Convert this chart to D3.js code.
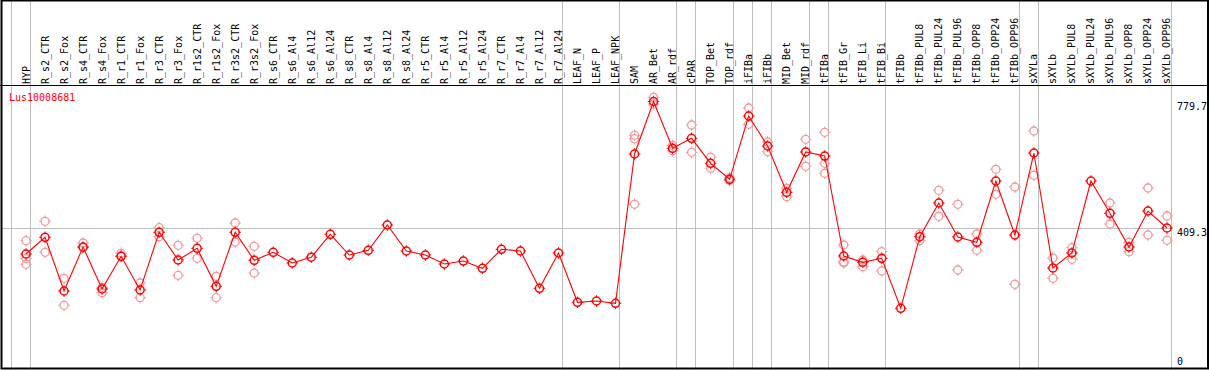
<!DOCTYPE html>
<html>
<head>
<meta charset="utf-8">
<script src="https://cdnjs.cloudflare.com/ajax/libs/d3/7.8.5/d3.min.js"></script>
<style>
    body { margin: 0; background: #fff; }
    svg text { font-family: "DejaVu Sans Mono", monospace; font-size: 10px; }
</style>
</head>
<body>
<div class="profile"></div>
<script>
// Data
const categories = [
    'HYP', 'R_s2_CTR', 'R_s2_Fox', 'R_s4_CTR', 'R_s4_Fox', 'R_r1_CTR', 'R_r1_Fox', 'R_r3_CTR', 'R_r3_Fox',
    'R_r1s2_CTR', 'R_r1s2_Fox', 'R_r3s2_CTR', 'R_r3s2_Fox', 'R_s6_CTR', 'R_s6_Al4', 'R_s6_Al12', 'R_s6_Al24',
    'R_s8_CTR', 'R_s8_Al4', 'R_s8_Al12', 'R_s8_Al24', 'R_r5_CTR', 'R_r5_Al4', 'R_r5_Al12', 'R_r5_Al24',
    'R_r7_CTR', 'R_r7_Al4', 'R_r7_Al12', 'R_r7_Al24', 'LEAF_N', 'LEAF_P', 'LEAF_NPK', 'SAM', 'AR_Bet',
    'AR_rdf', 'cPAR', 'TOP_Bet', 'TOP_rdf', 'iFIBa', 'iFIBb', 'MID_Bet', 'MID_rdf', 'tFIBa', 'tFIB_Gr',
    'tFIB_Li', 'tFIB_Bi', 'tFIBb', 'tFIBb_PUL8', 'tFIBb_PUL24', 'tFIBb_PUL96', 'tFIBb_OPP8', 'tFIBb_OPP24',
    'tFIBb_OPP96', 'sXYLa', 'sXYLb', 'sXYLb_PUL8', 'sXYLb_PUL24', 'sXYLb_PUL96', 'sXYLb_OPP8',
    'sXYLb_OPP24', 'sXYLb_OPP96'
];

const meanValues = [
    333.5, 382.4, 225.3, 354.0, 231.1, 326.8, 228.2, 397.0, 316.0, 350.2, 239.0, 397.0, 315.1,
    338.5, 307.2, 324.2, 391.2, 330.6, 344.4, 418.4, 342.3, 330.6, 304.3, 313.0, 291.7,
    347.3, 342.3, 233.2, 336.5, 192.2, 196.0, 189.3, 626.1, 779.7, 642.8, 672.0, 598.9,
    552.1, 737.3, 649.5, 514.0, 632.0, 620.2, 327.7, 309.2, 320.9, 174.7, 384.1, 482.7,
    383.3, 367.8, 547.1, 389.1, 629.0, 292.6, 336.5, 547.1, 452.6, 354.0, 459.3, 409.6
];

const repA = [
    372.4, 429.2, 262.4, 365.7, 236.1, 335.6, 248.7, 410.5, 359.0, 379.5, 268.3, 424.2, 356.1,
    null, null, null, null, null, null, null, null, null, null, null, null,
    null, null, null, null, null, null, null, 680.8, 792.0, 651.6, 710.9, 616.4,
    556.8, 760.7, 661.2, 525.7, 669.1, 689.6, 359.9, 316.0, 340.3, null, 392.0, 519.9,
    478.9, 392.0, 581.3, 529.6, 693.4, 321.8, 352.0, null, 482.7, 367.8, 526.6, 444.7
];

const repB = [
    303.4, 338.5, 183.4, 352.0, 220.3, 327.7, 205.7, 384.1, 271.2, 320.9, 205.7, 368.6, 277.9,
    null, null, null, null, null, null, null, null, null, null, null, null,
    null, null, null, null, null, null, null, 478.9, 772.4, 635.8, 631.1, 584.3,
    548.6, 713.0, 632.8, 501.2, 590.1, 569.6, 311.0, 296.4, 283.8, null, 372.4, 443.8,
    286.7, 344.4, 508.2, 244.9, 563.8, 262.4, 318.0, null, 421.3, 340.3, 389.1, 373.6
];

const repC = [
    320.4, null, null, null, null, null, null, null, null, null, null, null, null,
    null, null, null, null, null, null, null, null, null, null, null, null,
    null, null, null, null, null, null, null, 670.9, null, null, null, null,
    null, null, null, null, null, 598.9, 307.0, null, null, null, null, null,
    null, null, null, null, null, null, null, null, null, null, null, null
];

// groups end after these category indexes (-1 = left edge)
const groupEnds = [-1, 0, 28, 31, 34, 35, 37, 38, 39, 41, 42, 45, 52, 53, 60];
const axisLabels = [779.7, 409.3, 0];
const meanLine = 409.3;
const geneName = 'Lus10008681';

// Layout
const width = 1209;
const height = 370;
const headerBottom = 85.5;
const plotLeft = 10.7;
const plotRight = 1170.7;

const svg = d3.select('.profile')
    .append('svg')
    .attr('width', width)
    .attr('height', height);

// Scales
const xBand = d3.scaleBand()
    .domain(categories)
    .range([plotLeft, plotRight]);
const px = c => xBand(c) + xBand.bandwidth() * 0.805;

const yScale = d3.scaleLinear()
    .domain([0, 779.7])
    .range([368, 101.5]);

// Grid
const edgeX = i => Math.round(i < 0 ? xBand(categories[0]) : xBand(categories[i]) + xBand.bandwidth()) + 0.5;

svg.append('g')
    .selectAll('line')
    .data(groupEnds)
    .join('line')
    .attr('x1', edgeX)
    .attr('x2', edgeX)
    .attr('y1', 0)
    .attr('y2', height)
    .attr('stroke', '#c0c0c0')
    .attr('stroke-width', 1);

svg.append('line')
    .attr('x1', 2)
    .attr('x2', plotRight)
    .attr('y1', Math.round(yScale(meanLine)) + 0.5)
    .attr('y2', Math.round(yScale(meanLine)) + 0.5)
    .attr('stroke', '#c0c0c0');

// Header labels
svg.append('g')
    .selectAll('text')
    .data(categories)
    .join('text')
    .attr('transform', d => `translate(${Math.round(px(d) + 3.5)},84) rotate(-90)`)
    .attr('fill', '#000')
    .text(d => d);

svg.append('line')
    .attr('x1', 0)
    .attr('x2', width)
    .attr('y1', headerBottom)
    .attr('y2', headerBottom)
    .attr('stroke', '#000')
    .attr('stroke-width', 1.2);

// Gene name
svg.append('text')
    .attr('x', 9)
    .attr('y', 101)
    .attr('fill', '#ff0000')
    .text(geneName);

// Right axis labels
svg.append('g')
    .selectAll('text')
    .data(axisLabels)
    .join('text')
    .attr('x', 1177)
    .attr('y', d => d === 0 ? 365 : Math.round(yScale(d) + 8))
    .attr('fill', '#000')
    .text(d => d);

// Marker with small ticks
function marker(g, x, y, color, sw) {
    const m = g.append('g').attr('transform', `translate(${x},${y})`);
    m.append('circle')
        .attr('r', 4)
        .attr('fill', 'none')
        .attr('stroke', color)
        .attr('stroke-width', sw);
    [[0, -1], [0, 1], [-1, 0], [1, 0]].forEach(([dx, dy]) => {
        m.append('line')
            .attr('x1', dx * 4)
            .attr('y1', dy * 4)
            .attr('x2', dx * 5.8)
            .attr('y2', dy * 5.8)
            .attr('stroke', color)
            .attr('stroke-width', 1);
    });
}

// Replicates
const repLayer = svg.append('g');
[repA, repB, repC].forEach(series => {
    series.forEach((v, i) => {
        if (v === null) return;
        marker(repLayer, px(categories[i]), yScale(v), '#f29a9a', 1.3);
    });
});

// Mean profile
const line = d3.line()
    .x((d, i) => px(categories[i]))
    .y(d => yScale(d));

svg.append('path')
    .datum(meanValues)
    .attr('d', line)
    .attr('fill', 'none')
    .attr('stroke', '#ff0000')
    .attr('stroke-width', 1.1);

const meanLayer = svg.append('g');
meanValues.forEach((v, i) => {
    marker(meanLayer, px(categories[i]), yScale(v), '#ff0000', 1.5);
});

// Frame
svg.append('rect')
    .attr('x', 1.5)
    .attr('y', 0.5)
    .attr('width', 1206.5)
    .attr('height', 368)
    .attr('fill', 'none')
    .attr('stroke', '#000')
    .attr('stroke-width', 2);
</script>
</body>
</html>
